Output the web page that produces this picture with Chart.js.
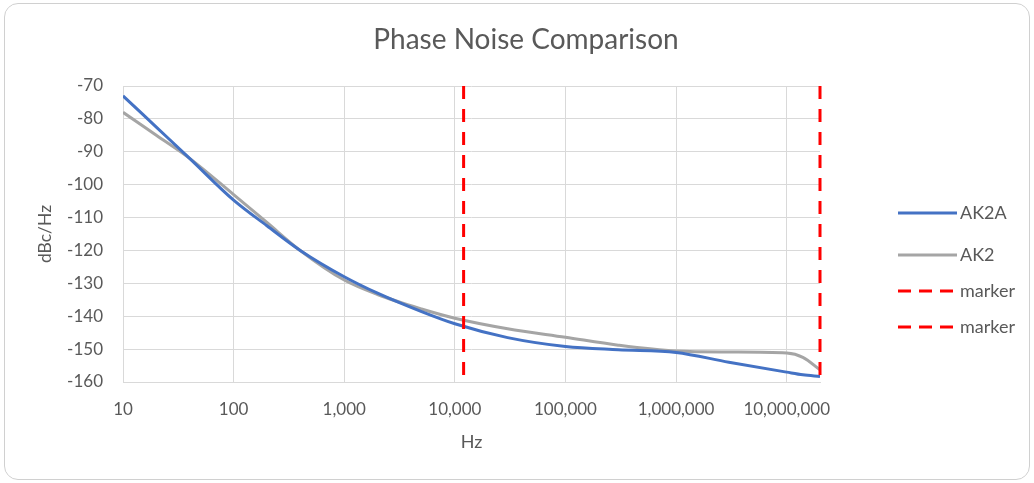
<!DOCTYPE html>
<html>
<head>
<meta charset="utf-8">
<script src="https://cdn.jsdelivr.net/npm/chart.js@4"></script>
<style>
  html, body { margin: 0; padding: 0; background: #ffffff; }
  #wrap { position: relative; width: 1034px; height: 483px; }
  #frame { position: absolute; left: 4px; top: 3px; width: 1024px; height: 475px;
           border: 1px solid #d0d0d0; border-radius: 14px; pointer-events: none; }
  canvas { position: absolute; left: 0; top: 0; }
</style>
</head>
<body>
<div id="wrap">
  <canvas id="c" width="1034" height="483"></canvas>
  <div id="frame"></div>
</div>
<script>
// ---- data ----
const freqs = [10, 20, 40, 100, 200, 400, 1000, 2000, 5000, 10000, 30000, 100000, 300000, 1000000, 3000000, 10000000, 14000000, 20000000];
const ak2a  = [-73, -82.5, -92, -104.7, -112.5, -120, -128, -133, -138.6, -142.3, -146.5, -149.2, -150.2, -151, -154, -157, -157.8, -158.3];
const ak2   = [-78, -85, -92, -103, -111.5, -120, -129, -133.4, -137.8, -140.6, -143.8, -146.4, -148.8, -150.6, -150.9, -151.2, -152.5, -156.3];
const markerFreqs = [12000, 20000000];
const yRange = [-160, -70];
const xTicks = [10, 100, 1000, 10000, 100000, 1000000, 10000000];
const seriesNames = ['AK2A', 'AK2', 'marker', 'marker'];
const chartTitle = 'Phase Noise Comparison';

const textColor = '#595959';
const fontFam = 'Lato, "Open Sans", sans-serif';

function pts(xs, ys) { return xs.map((x, i) => ({ x: x, y: ys[i] })); }

const datasets = [
  { label: seriesNames[0], data: pts(freqs, ak2a), borderColor: '#4472C4', borderWidth: 3,
    pointRadius: 0, cubicInterpolationMode: 'monotone', fill: false, order: 2 },
  { label: seriesNames[1], data: pts(freqs, ak2), borderColor: '#A5A5A5', borderWidth: 3,
    pointRadius: 0, cubicInterpolationMode: 'monotone', fill: false, order: 3 },
];
markerFreqs.forEach((f, i) => {
  datasets.push({ label: seriesNames[2 + i], data: [{ x: f, y: yRange[1] }, { x: f, y: yRange[0] }],
    borderColor: '#FF0000', borderWidth: 3, borderDash: [13, 10], pointRadius: 0, fill: false,
    order: 1, clip: false });
});

const decorPlugin = {
  id: 'decor',
  afterDraw(chart) {
    const ctx = chart.ctx;
    ctx.save();
    // title
    ctx.fillStyle = textColor;
    ctx.font = '28px ' + fontFam;
    ctx.textAlign = 'center';
    ctx.textBaseline = 'alphabetic';
    ctx.fillText(chartTitle, 526, 49);
    // legend
    const ys = [213, 255, 291, 327];
    chart.data.datasets.forEach((ds, i) => {
      const y = ys[i];
      ctx.beginPath();
      ctx.strokeStyle = ds.borderColor;
      ctx.lineWidth = 3;
      ctx.setLineDash(ds.borderDash ? [13, 8] : []);
      ctx.moveTo(898, y);
      ctx.lineTo(957, y);
      ctx.stroke();
      ctx.setLineDash([]);
      ctx.fillStyle = textColor;
      ctx.font = '18px ' + fontFam;
      ctx.textAlign = 'left';
      ctx.textBaseline = 'middle';
      ctx.fillText(ds.label, 960, y);
    });
    ctx.restore();
  }
};

new Chart(document.getElementById('c'), {
  type: 'line',
  data: { datasets: datasets },
  plugins: [decorPlugin],
  options: {
    responsive: false,
    animation: false,
    layout: { padding: { left: 0, right: 214, top: 86, bottom: 0 } },
    plugins: {
      legend: { display: false },
      tooltip: { enabled: false },
      title: { display: false }
    },
    scales: {
      x: {
        type: 'logarithmic', min: 10, max: 20000000,
        afterBuildTicks(scale) { scale.ticks = xTicks.map(v => ({ value: v })); },
        afterFit(scale) { scale.height = 101; },
        ticks: { color: textColor, font: { family: fontFam, size: 17 }, padding: 17, maxRotation: 0, autoSkip: false,
                 callback: (v) => Number(v).toLocaleString('en-US') },
        grid: { color: '#D9D9D9', drawTicks: false, lineWidth: 1 },
        border: { display: true, color: '#D9D9D9' },
        title: { display: true, text: 'Hz', color: textColor, font: { family: fontFam, size: 18 }, padding: 30 }
      },
      y: {
        min: yRange[0], max: yRange[1],
        afterFit(scale) { scale.width = 123; },
        ticks: { stepSize: 10, color: textColor, font: { family: fontFam, size: 17 }, padding: 20 },
        grid: { color: '#D9D9D9', drawTicks: false, lineWidth: 1 },
        border: { display: false },
        title: { display: true, text: 'dBc/Hz', color: textColor, font: { family: fontFam, size: 17.5 }, padding: 34.5 }
      }
    }
  }
});
</script>
</body>
</html>
